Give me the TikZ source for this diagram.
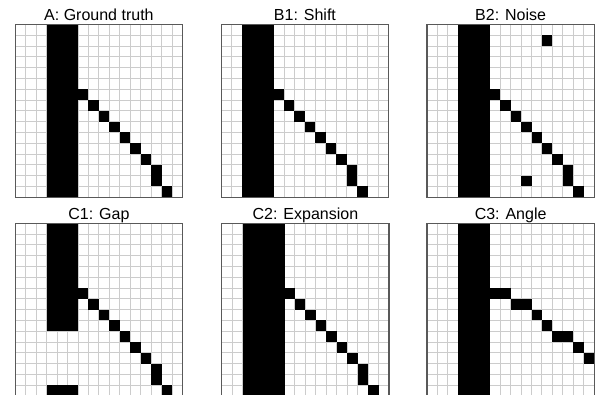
\documentclass[tikz,border=0pt]{standalone}
\usepackage{fontspec}
\setmainfont{Liberation Sans}
\usepackage{tikz}

\definecolor{gridgray}{gray}{0.8}
\definecolor{framegray}{gray}{0.35}

% cells of the true line, as col/row
\newcommand{\truediag}{6/6,7/7,8/8,9/9,10/10,11/11,12/12,13/13,13/14,14/15}

\tikzset{
  cellsize/.style={x=7.84pt,y=-8.1pt},
  cell/.style={fill=black},
  gridline/.style={draw=gridgray,line width=0.75pt},
  frameline/.style={draw=framegray,line width=0.9pt},
  paneltitle/.style={anchor=base,inner sep=0pt,font=\fontsize{12}{14}\selectfont}
}

\begin{document}
\begin{tikzpicture}[x=0.75pt,y=-0.75pt]
    \useasboundingbox (0,0) rectangle (601,395);
    \clip (0,0) rectangle (601,395);
    % grids and titles
    \foreach \px/\py/\nm/\ttl in {15.3/24.5/A/{A: Ground truth},221.3/24.5/Bone/{B1: Shift},427/24.5/Btwo/{B2: Noise},15.3/223.3/Cone/{C1: Gap},221.8/223.3/Ctwo/{C2: Expansion},427/223.3/Cthree/{C3: Angle}}{
      \begin{scope}[shift={(\px,\py)},cellsize]
        \foreach \i in {1,...,15}{
          \draw[gridline] (\i,0) -- (\i,16);
          \draw[gridline] (0,\i) -- (16,\i);
        }
        \node[paneltitle] (title\nm) at (8,-0.35) {\ttl};
      \end{scope}
    }
    % A: ground truth
    \begin{scope}[shift={(15.3,24.5)},cellsize]
      \fill[cell] (3,0) rectangle (6,16);
      \foreach \c/\r in \truediag {\fill[cell] (\c,\r) rectangle +(1,1);}
    \end{scope}
    % B1: everything one column to the left
    \begin{scope}[shift={(221.3,24.5)},cellsize]
      \fill[cell] (2,0) rectangle (5,16);
      \foreach \c/\r in \truediag {\fill[cell] (\c-1,\r) rectangle +(1,1);}
    \end{scope}
    % B2: two stray cells
    \begin{scope}[shift={(427,24.5)},cellsize]
      \fill[cell] (3,0) rectangle (6,16);
      \foreach \c/\r in \truediag {\fill[cell] (\c,\r) rectangle +(1,1);}
      \fill[cell] (11,1) rectangle +(1,1);
      \fill[cell] (9,14) rectangle +(1,1);
    \end{scope}
    % C1: bar broken
    \begin{scope}[shift={(15.3,223.3)},cellsize]
      \fill[cell] (3,0) rectangle (6,10);
      \fill[cell] (3,15) rectangle (6,16);
      \foreach \c/\r in \truediag {\fill[cell] (\c,\r) rectangle +(1,1);}
    \end{scope}
    % C2: wider bar
    \begin{scope}[shift={(221.8,223.3)},cellsize]
      \fill[cell] (2,0) rectangle (6,16);
      \foreach \c/\r in \truediag {\fill[cell] (\c,\r) rectangle +(1,1);}
    \end{scope}
    % C3: flatter line
    \begin{scope}[shift={(427,223.3)},cellsize]
      \fill[cell] (3,0) rectangle (6,16);
      \foreach \c/\r in {6/6,7/6,8/7,9/7,10/8,11/9,12/10,13/10,14/11,15/12}{\fill[cell] (\c,\r) rectangle +(1,1);}
    \end{scope}
    % frames
    \foreach \px/\py in {15.3/24.5,221.3/24.5,427/24.5,15.3/223.3,221.8/223.3,427/223.3}{
      \draw[frameline,shift={(\px,\py)},cellsize] (0,0) rectangle (16,16);
    }
\end{tikzpicture}
\end{document}
